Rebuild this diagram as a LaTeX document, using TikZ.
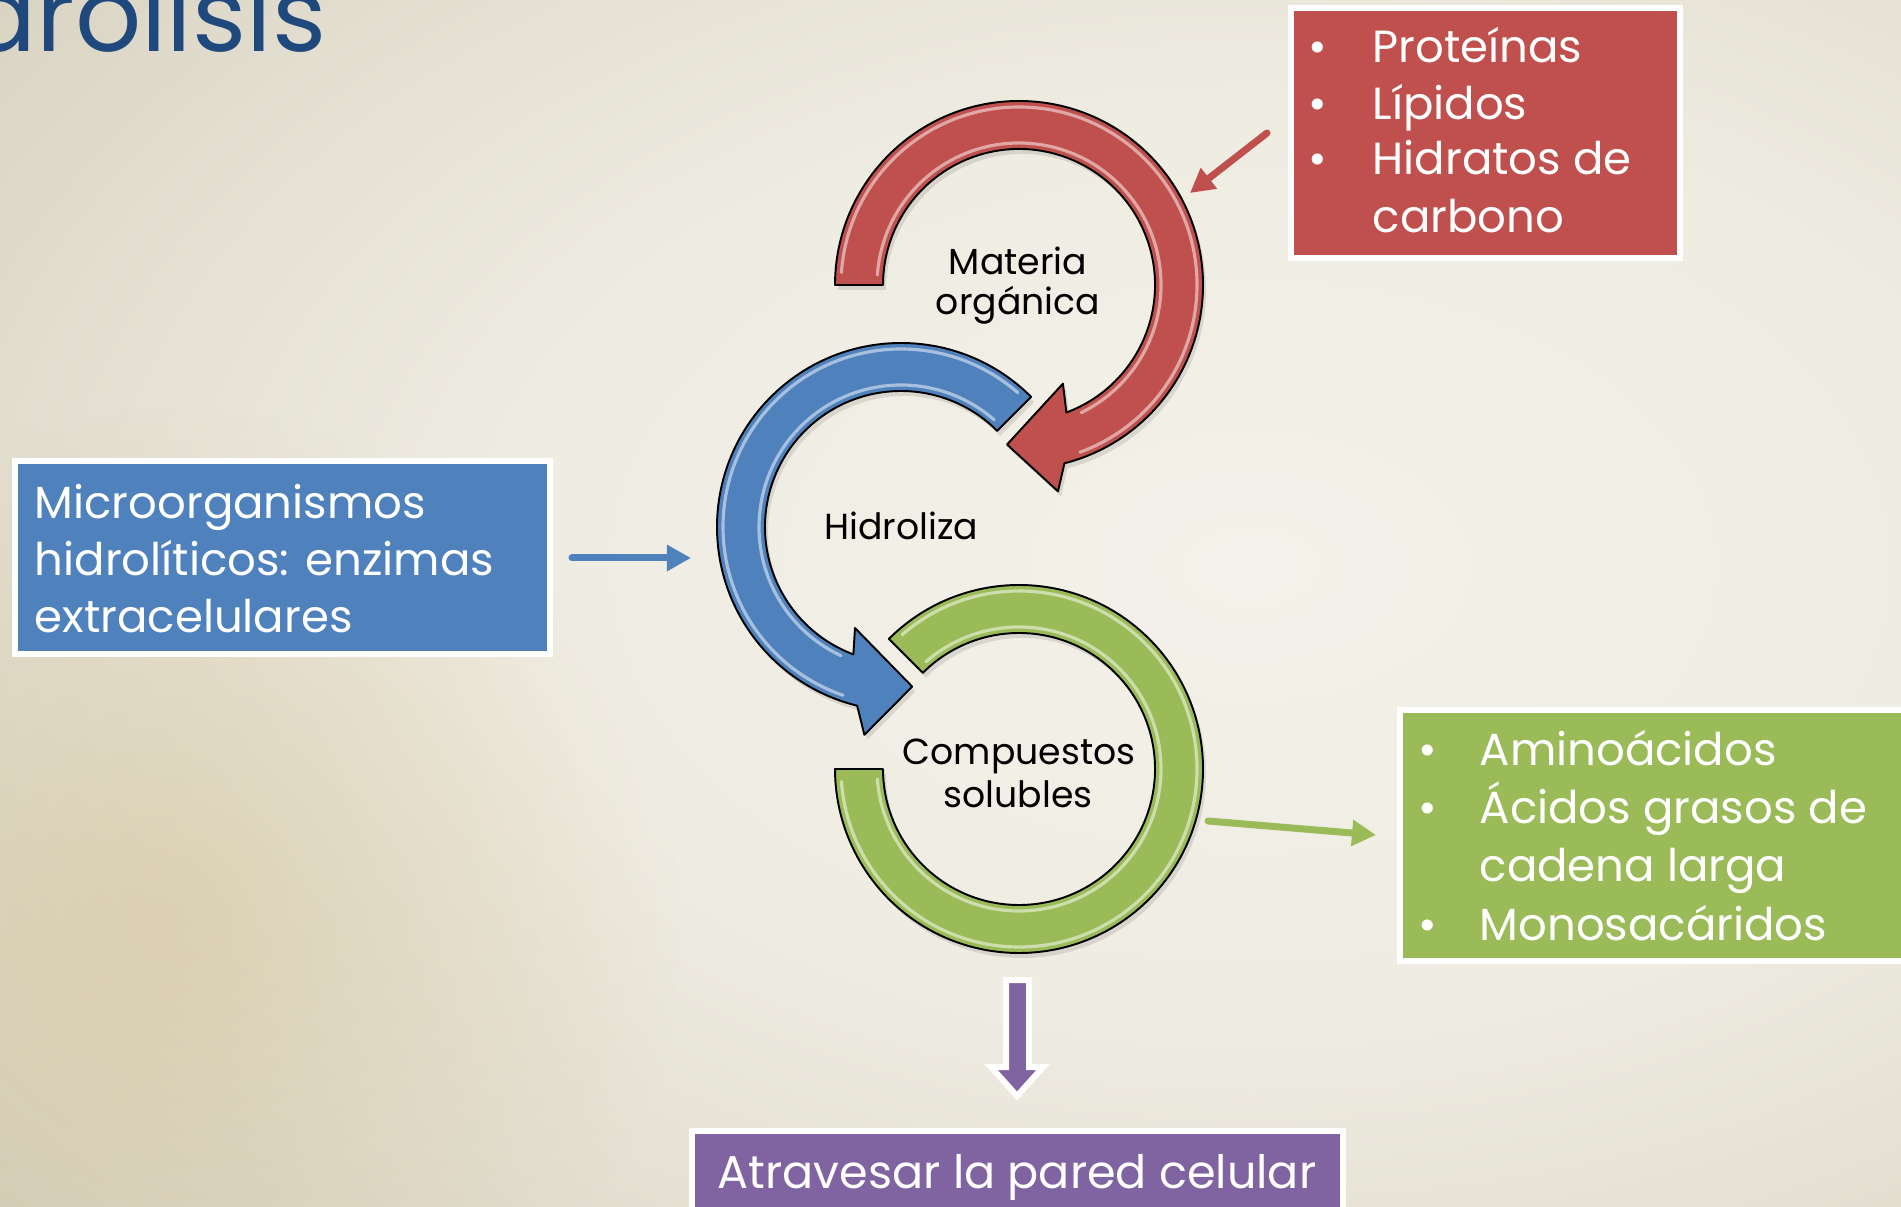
\documentclass[tikz,border=0pt]{standalone}
\usepackage{fontspec}
\setmainfont{Poppins}
\usetikzlibrary{arrows.meta,fadings}
\definecolor{titleblue}{HTML}{1F497D}
\definecolor{cred}{HTML}{C0504D}
\definecolor{cblue}{HTML}{4F81BD}
\definecolor{cgreen}{HTML}{9BBB59}
\definecolor{cpurple}{HTML}{8064A2}
\definecolor{bgA}{HTML}{F3F1E9}
\definecolor{bgB}{HTML}{EFECE2}
\definecolor{bgC}{HTML}{E2DED0}
\definecolor{bgD}{HTML}{CFC8B3}
\definecolor{bgE}{HTML}{BFB79C}
\definecolor{bgF}{HTML}{B3AB91}
\definecolor{warm}{HTML}{D2BE8E}
\pgfdeclareradialshading{bgglow}{\pgfpoint{0bp}{0bp}}{color(0bp)=(bgA); color(14bp)=(bgB); color(24bp)=(bgC); color(36bp)=(bgD); color(45bp)=(bgE); color(50bp)=(bgF)}
\tikzfading[name=softdisc, inner color=transparent!55, outer color=transparent!100]
\tikzset{
  ringline/.style={draw=black, line width=0.55pt, line join=round},
  gloss/.style={white, opacity=0.5, line width=0.9pt, line cap=round},
  ringshadow/.style={fill=black, opacity=0.10},
  % red ring with arrowhead, clockwise
  redring/.pic={
    \begin{scope}[shift={(3,-5)}]
      \fill[ringshadow] (180:136) -- (180:184) arc[start angle=180,end angle=-75.7,radius=184]
        -- (-79.3:210) -- (-94.3:160) -- (-66:108) -- (-69.6:136)
        arc[start angle=-69.6,end angle=180,radius=136] -- cycle;
    \end{scope}
    \filldraw[ringline, fill=cred] (180:136) -- (180:184) arc[start angle=180,end angle=-75.7,radius=184]
        -- (-79.3:210) -- (-94.3:160) -- (-66:108) -- (-69.6:136)
        arc[start angle=-69.6,end angle=180,radius=136] -- cycle;
    \draw[gloss] (176:178) arc[start angle=176,end angle=-70,radius=178];
    \draw[gloss] (176:142) arc[start angle=176,end angle=-64,radius=142];
  },
  % blue ring with arrowhead, counter-clockwise
  bluering/.pic={
    \begin{scope}[shift={(3,-5)}]
      \fill[ringshadow] (45:136) -- (45:184) arc[start angle=45,end angle=256.2,radius=184]
        -- (260:211) -- (274:160) -- (245.5:111) -- (249.5:136)
        arc[start angle=249.5,end angle=45,radius=136] -- cycle;
    \end{scope}
    \filldraw[ringline, fill=cblue] (45:136) -- (45:184) arc[start angle=45,end angle=256.2,radius=184]
        -- (260:211) -- (274:160) -- (245.5:111) -- (249.5:136)
        arc[start angle=249.5,end angle=45,radius=136] -- cycle;
    \draw[gloss] (49:178) arc[start angle=49,end angle=251,radius=178];
    \draw[gloss] (49:142) arc[start angle=49,end angle=245,radius=142];
  },
  % green ring, open at the upper left
  greenring/.pic={
    \begin{scope}[shift={(3,-5)}]
      \fill[ringshadow] (135:136) -- (135:184) arc[start angle=135,end angle=-180,radius=184]
        -- (180:136) arc[start angle=-180,end angle=135,radius=136] -- cycle;
    \end{scope}
    \filldraw[ringline, fill=cgreen] (135:136) -- (135:184) arc[start angle=135,end angle=-180,radius=184]
        -- (180:136) arc[start angle=-180,end angle=135,radius=136] -- cycle;
    \draw[gloss] (131:178) arc[start angle=131,end angle=-176,radius=178];
    \draw[gloss] (131:142) arc[start angle=131,end angle=-176,radius=142];
  },
  boxframe/.style={draw=white, line width=0.06cm, inner sep=0pt},
  boxtext/.style={text=white, anchor=base west, inner sep=0pt, font=\fontsize{12.8}{16}\selectfont},
  bulletmark/.style={text=white, anchor=base, inner sep=0pt, font=\fontsize{12.8}{16}\selectfont},
  ringlabel/.style={anchor=base, inner sep=0pt, font=\fontsize{10.3}{12}\selectfont},
  link/.style={line width=0.07cm, line cap=round, -{Triangle[length=0.24cm,width=0.25cm]}},
}
\begin{document}
\begin{tikzpicture}[x=0.01cm, y=0.01cm]
\useasboundingbox (0,0) rectangle (1901,1206);
\clip (0,0) rectangle (1901,1206);
% background: light glow right of centre, tan towards the edges
\shade[shading=bgglow] (-50,-160) rectangle (2550,1440);
% warm tint in the lower left
\fill[warm, path fading=softdisc] (160,280) circle[radius=520];

% title
\node[anchor=base east, inner sep=0pt, text=titleblue, font=\fontsize{29.5}{34}\selectfont] (title) at (327,1154) {Hidrólisis};

% ring centres
\coordinate (cr) at (1019,921);
\coordinate (cb) at (901,679);
\coordinate (cg) at (1019,437);

\pic (gring) at (cg) {greenring};
\pic (bring) at (cb) {bluering};
\pic (rring) at (cr) {redring};

% ring labels
\node[ringlabel] (lr1) at (1018,931) {Materia};
\node[ringlabel] (lr2) at (1018,891) {orgánica};
\node[ringlabel] (lb1) at (901,666) {Hidroliza};
\node[ringlabel] (lg1) at (1019,441) {Compuestos};
\node[ringlabel] (lg2) at (1018,399) {solubles};

% boxes
\node[boxframe, fill=cred, minimum width=3.89cm, minimum height=2.50cm] (redbox) at (1485.5,1073) {};
\node[boxframe, fill=cblue, minimum width=5.35cm, minimum height=1.93cm] (bluebox) at (282.5,648.5) {};
\node[boxframe, fill=cgreen, minimum width=5.12cm, minimum height=2.51cm] (greenbox) at (1656,370.5) {};
\node[boxframe, fill=cpurple, minimum width=6.51cm, minimum height=1.06cm] (purplebox) at (1017.5,22) {};

% red box list
\node[bulletmark] (rb1) at (1318,1143) {•};
\node[boxtext] (rt1) at (1372,1143) {Proteínas};
\node[bulletmark] (rb2) at (1318,1086) {•};
\node[boxtext] (rt2) at (1372,1086) {Lípidos};
\node[bulletmark] (rb3) at (1318,1031) {•};
\node[boxtext] (rt3) at (1372,1031) {Hidratos de};
\node[boxtext] (rt4) at (1372,973) {carbono};

% blue box text
\node[boxtext] (bt1) at (34,687) {Microorganismos};
\node[boxtext] (bt2) at (34,630) {hidrolíticos: enzimas};
\node[boxtext] (bt3) at (34,573) {extracelulares};

% green box list
\node[bulletmark] (gb1) at (1428,440) {•};
\node[boxtext] (gt1) at (1479,440) {Aminoácidos};
\node[bulletmark] (gb2) at (1428,383) {•};
\node[boxtext] (gt2) at (1479,383) {Ácidos grasos de};
\node[boxtext] (gt3) at (1479,325) {cadena larga};
\node[bulletmark] (gb3) at (1428,266) {•};
\node[boxtext] (gt4) at (1479,266) {Monosacáridos};

% purple box text
\node[anchor=base, text=white, inner sep=0pt, font=\fontsize{13.1}{16}\selectfont] (pt) at (1017,18) {Atravesar la pared celular};

% connectors
\coordinate (ra1) at (1267,1073);
\coordinate (ra2) at (1190,1013);
\draw[link, cred] (ra1) -- (ra2);
\coordinate (ba1) at (572,648);
\coordinate (ba2) at (691,648);
\draw[link, cblue] (ba1) -- (ba2);
\coordinate (ga1) at (1208,385);
\coordinate (ga2) at (1376,371);
\draw[link, cgreen] (ga1) -- (ga2);

% block arrow down to the purple box
\coordinate (pa) at (1017,226);
\filldraw[fill=cpurple, draw=white, line width=0.06cm, line join=miter]
  (pa) ++(-11,0) -- ++(23,0) -- ++(0,-87) -- ++(14,0) -- (1017,110) -- (991,139) -- (1006,139) -- cycle;
\end{tikzpicture}
\end{document}
